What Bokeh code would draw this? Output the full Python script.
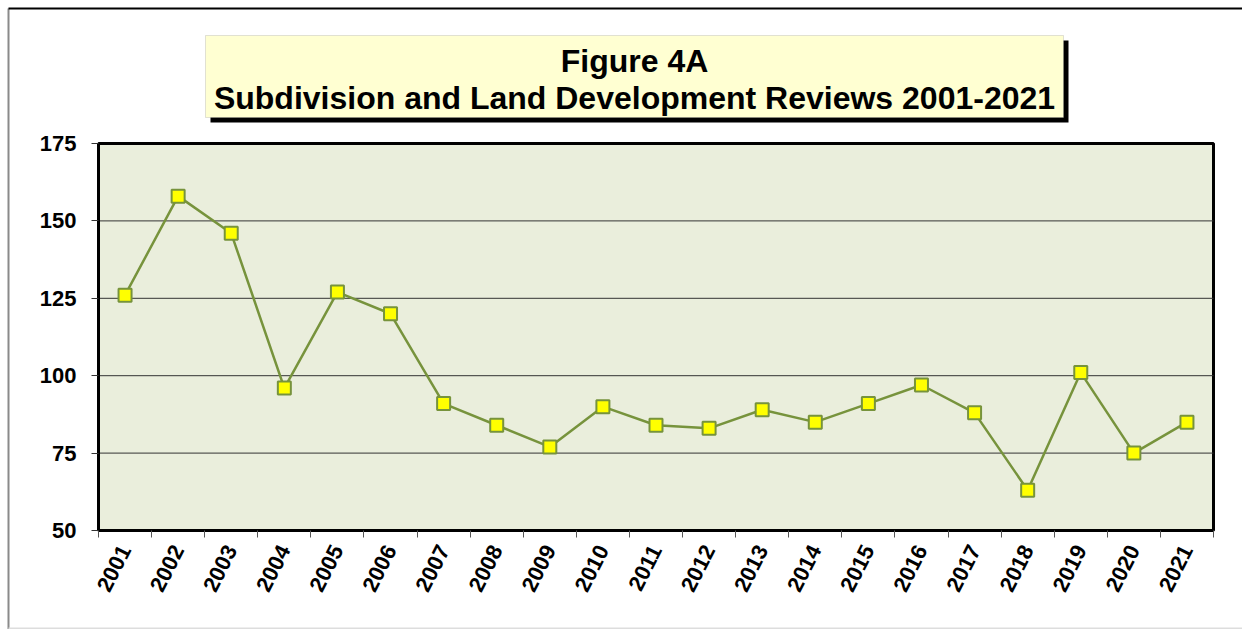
from bokeh.plotting import figure
from bokeh.models import Range1d, FixedTicker, BoxAnnotation, Label
from bokeh.embed import file_html
from bokeh.resources import INLINE

# ---- data ----
years = ["2001", "2002", "2003", "2004", "2005", "2006", "2007", "2008", "2009", "2010",
         "2011", "2012", "2013", "2014", "2015", "2016", "2017", "2018", "2019", "2020", "2021"]
reviews = [126, 158, 146, 96, 127, 120, 91, 84, 77, 90,
           84, 83, 89, 85, 91, 97, 88, 63, 101, 75, 85]
y_ticks = [50, 75, 100, 125, 150, 175]
title_line1 = "Figure 4A"
title_line2 = "Subdivision and Land Development Reviews 2001-2021"

FONT = "Liberation Sans"
GREEN = "#77933C"
W, H = 1242, 629
FL, FR, FT, FB = 98, 1213, 143, 530   # plot-area edges in pixels

n = len(years)
y0, y1 = y_ticks[0], y_ticks[-1]
xc = [i + 0.5 for i in range(n)]          # category centres
xb = list(range(n + 1))                    # category boundaries


def dx(px):
    return (px - FL) / (FR - FL) * n


def dy(py):
    return y1 - (py - FT) / (FB - FT) * (y1 - y0)


p = figure(width=W, height=H, output_backend="svg", toolbar_location=None,
           x_range=Range1d(dx(0), dx(W)), y_range=Range1d(dy(H), dy(0)),
           min_border=0, min_border_left=0, min_border_right=0,
           min_border_top=0, min_border_bottom=0,
           background_fill_color="white", border_fill_color="white")
p.outline_line_color = None
p.xgrid.visible = False
p.ygrid.visible = False

# plot area
p.add_layout(BoxAnnotation(left=0, right=n, bottom=y0, top=y1, level="underlay",
                           fill_color="#EAEEDC", fill_alpha=1,
                           line_color="black", line_width=3, line_alpha=1))
# horizontal grid lines
gy = y_ticks[1:-1]
p.segment(x0=[0] * len(gy), x1=[n] * len(gy), y0=gy, y1=gy,
          line_color="#333333", line_width=1)

# y axis
ya = p.yaxis[0]
ya.fixed_location = 0
ya.bounds = (y0, y1)
ya.ticker = FixedTicker(ticks=y_ticks)
ya.axis_line_color = "black"
ya.axis_line_width = 3
ya.major_tick_out = 7
ya.major_tick_in = 0
ya.major_tick_line_color = "#333333"
ya.minor_tick_line_color = None
ya.major_label_standoff = 15
ya.major_label_text_font = FONT
ya.major_label_text_font_style = "bold"
ya.major_label_text_font_size = "22px"
ya.major_label_text_color = "black"

# x axis
xa = p.xaxis[0]
xa.fixed_location = y0
xa.bounds = (0, n)
xa.ticker = FixedTicker(ticks=xc, minor_ticks=xb)
xa.major_label_overrides = {c: y for c, y in zip(xc, years)}
xa.axis_line_color = "black"
xa.axis_line_width = 3
xa.major_tick_out = 0
xa.major_tick_in = 0
xa.minor_tick_out = 7
xa.minor_tick_in = 0
xa.minor_tick_line_color = "#555555"
xa.major_label_orientation = 1.1
xa.major_label_standoff = 9
xa.major_label_text_font = FONT
xa.major_label_text_font_style = "bold"
xa.major_label_text_font_size = "22px"
xa.major_label_text_color = "black"

# data
p.line(xc, reviews, line_color=GREEN, line_width=2.5)
p.scatter(xc, reviews, marker="square", size=13, fill_color="#FFFF00",
          line_color=GREEN, line_width=2)


def box(l, r, t, b, **kw):
    p.add_layout(BoxAnnotation(left=dx(l), right=dx(r), top=dy(t), bottom=dy(b),
                               level="overlay", **kw))


# outer chart border
box(7, 9, 8, 629, fill_color="#8a8a8a", fill_alpha=1, line_alpha=0)
box(8, 1243, 7, 9, fill_color="black", fill_alpha=1, line_alpha=0)
box(8, 1243, 627, 629, fill_color="#dddddd", fill_alpha=1, line_alpha=0)

# title box with shadow
box(210, 1068, 40, 122, fill_color="black", fill_alpha=1, line_alpha=0)
box(205, 1063, 35, 117, fill_color="#FFFFD2", fill_alpha=1, line_color="#9a9a9a", line_width=1)
for txt, ty in [(title_line1, 60), (title_line2, 97)]:
    p.add_layout(Label(x=dx(634), y=dy(ty), text=txt, level="overlay",
                       text_align="center", text_baseline="middle", text_font=FONT,
                       text_font_style="bold", text_font_size="32px", text_color="black"))

open("out.html", "w").write(file_html(p, INLINE))
